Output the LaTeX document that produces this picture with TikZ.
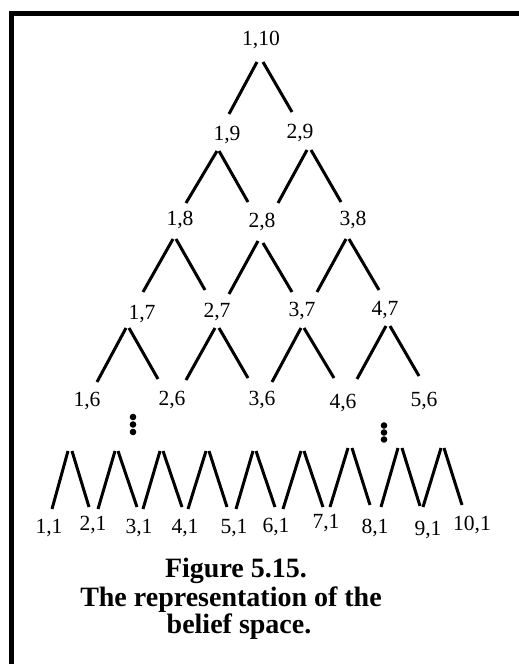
\documentclass[tikz,border=0pt]{standalone}
\usepackage{fontspec}
\setmainfont{Liberation Serif}
\begin{document}
\begin{tikzpicture}[x=1pt,y=-1pt,
  lbl/.style={inner sep=0pt,anchor=base,font=\fontsize{21.6}{24}\selectfont},
  captext/.style={inner sep=0pt,anchor=base,font=\fontsize{28}{30}\selectfont\bfseries},
  branch/.style={line width=3pt,line cap=butt},
  frame/.style={line width=5pt,miter limit=10},
  dotmark/.style={fill=black}]
\useasboundingbox (0,0) rectangle (519,664);
% frame
\draw[frame] (11.5,664) -- (11.5,13) -- (519,13);
% labels
\node[lbl] (n110) at (261,45) {1,10};
\node[lbl] (n19) at (227,140) {1,9};
\node[lbl] (n29) at (300,138.5) {2,9};
\node[lbl] (n18) at (180,225) {1,8};
\node[lbl] (n28) at (262,227) {2,8};
\node[lbl] (n38) at (353,225) {3,8};
\node[lbl] (n17) at (142,319) {1,7};
\node[lbl] (n27) at (217,317) {2,7};
\node[lbl] (n37) at (302,316) {3,7};
\node[lbl] (n47) at (385,315) {4,7};
\node[lbl] (n16) at (87,406) {1,6};
\node[lbl] (n26) at (172,405) {2,6};
\node[lbl] (n36) at (262,405) {3,6};
\node[lbl] (n46) at (343,408) {4,6};
\node[lbl] (n56) at (424,406) {5,6};
\node[lbl] (b1) at (49,533) {1,1};
\node[lbl] (b2) at (93,530) {2,1};
\node[lbl] (b3) at (139,533) {3,1};
\node[lbl] (b4) at (185,533) {4,1};
\node[lbl] (b5) at (234,533) {5,1};
\node[lbl] (b6) at (276,532) {6,1};
\node[lbl] (b7) at (326,528) {7,1};
\node[lbl] (b8) at (375,533) {8,1};
\node[lbl] (b9) at (428,535) {9,1};
\node[lbl] (b10) at (472,530) {10,1};
% branches of the upper tree
\draw[branch] (257,62) -- (229,114);
\draw[branch] (263,62) -- (292,112);
\draw[branch] (217,151) -- (186,203);
\draw[branch] (219,151) -- (248,202);
\draw[branch] (307,150) -- (278,203);
\draw[branch] (311,150) -- (341,202);
\draw[branch] (173,239) -- (143,292);
\draw[branch] (176,239) -- (205,290);
\draw[branch] (258,241) -- (229,294);
\draw[branch] (263,243) -- (292,292);
\draw[branch] (346,239) -- (317,292);
\draw[branch] (349,239) -- (379,290);
\draw[branch] (126,328) -- (97,382);
\draw[branch] (129,328) -- (158,379);
\draw[branch] (215,328) -- (186,380);
\draw[branch] (219,328) -- (248,378);
\draw[branch] (301,328) -- (272,382);
\draw[branch] (304,328) -- (334,378);
\draw[branch] (386,326) -- (357,379);
\draw[branch] (390,326) -- (419,376);
% bottom zig-zag
\draw[branch] (52,509) -- (68,451);
\draw[branch] (72,451) -- (89,507);
\draw[branch] (98,509) -- (115,451);
\draw[branch] (118,451) -- (137,507);
\draw[branch] (143,509) -- (160,451);
\draw[branch] (163,451) -- (182,507);
\draw[branch] (188,509) -- (206,451);
\draw[branch] (209,451) -- (227,507);
\draw[branch] (236,509) -- (253,451);
\draw[branch] (256,451) -- (275,507);
\draw[branch] (283,509) -- (301,451);
\draw[branch] (304,451) -- (323,507);
\draw[branch] (330,507) -- (348,448);
\draw[branch] (352,448) -- (370,505);
\draw[branch] (381,507) -- (398,448);
\draw[branch] (402,448) -- (420,506);
\draw[branch] (423,507) -- (441,448);
\draw[branch] (444,448) -- (462,505);
% vertical ellipses
\foreach \yy in {417,424.5,432} \fill[dotmark] (133,\yy) circle (3.3);
\foreach \yy in {425.5,432.5,439.5} \fill[dotmark] (384,\yy) circle (3.3);
% caption
\node[captext] (c1) at (236,577) {Figure 5.15.};
\node[captext] (c2) at (231,606) {The representation of the};
\node[captext] (c3) at (239,633) {belief space.};
\end{tikzpicture}
\end{document}
